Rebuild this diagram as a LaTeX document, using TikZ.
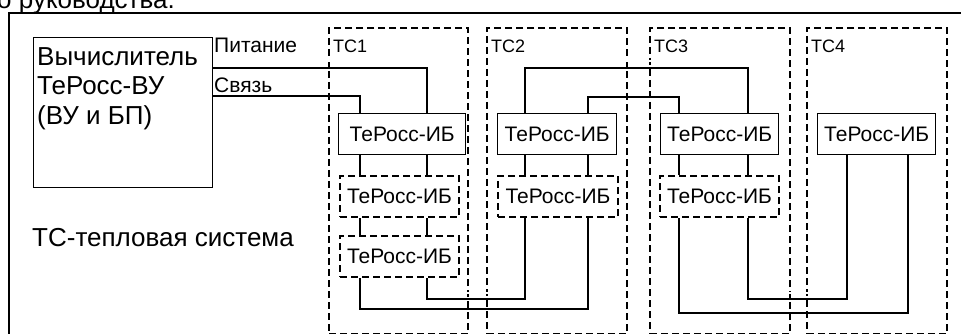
\documentclass[tikz,border=0pt]{standalone}
\usepackage{fontspec}
\setmainfont{Liberation Sans}
\usetikzlibrary{positioning}

\begin{document}
\begin{tikzpicture}[x=1pt,y=-1pt,
frame/.style={line width=2.8pt},
group/.style={draw,line width=2pt,dash pattern=on 7pt off 4pt,anchor=north west,inner sep=0pt,minimum height=306pt},
unit/.style={draw,line width=1.3pt,fill=white,anchor=north west,inner sep=0pt,minimum height=41pt,font=\fontsize{21}{25}\selectfont},
spare/.style={unit,line width=2pt,dash pattern=on 7pt off 4pt},
lbl/.style={anchor=base west,inner sep=0pt,font=\fontsize{21}{25}\selectfont},
tclbl/.style={anchor=base west,inner sep=0pt,font=\fontsize{18}{22}\selectfont},
link/.style={line width=1.8pt},
feed/.style={line width=0.8pt,double,double distance=1.3pt}]
\useasboundingbox (0,0) rectangle (961,334);
\clip (0,0) rectangle (961,334);
\node[anchor=base west,inner sep=0pt,font=\fontsize{26}{30}\selectfont] (head) at (-3,9) {о руководства.};
\draw[frame] (9,340) -- (9,13) -- (970,13);
\node[group,minimum width=139pt] (tc1) at (328,27) {};
\node[group,minimum width=140pt] (tc2) at (486,27) {};
\node[group,minimum width=140pt] (tc3) at (649,27) {};
\node[group,minimum width=140pt] (tc4) at (806,27) {};
\node[tclbl] (tc1l) at (333,53) {ТС1};
\node[tclbl] (tc2l) at (491,53) {ТС2};
\node[tclbl] (tc3l) at (654,53) {ТС3};
\node[tclbl] (tc4l) at (811,53) {ТС4};
\node[draw,line width=1.3pt,anchor=north west,inner sep=0pt,minimum width=179pt,minimum height=150pt] (vu) at (33,37) {};
\node[anchor=north west,align=left,inner sep=0pt,font=\fontsize{26}{29.5}\selectfont] (vutxt) at (37,47) {Вычислитель\\ТеРосс-ВУ\\(ВУ и БП)};
\node[lbl] (pwr) at (214,53) {Питание};
\node[lbl] (com) at (214,93) {Связь};
\node[anchor=base west,inner sep=0pt,font=\fontsize{26}{30}\selectfont] (legend) at (32,246) {ТС-тепловая система};
\node[unit,minimum width=127pt] (ib1) at (338,113) {ТеРосс-ИБ};
\node[unit,minimum width=119pt] (ib2) at (497,113) {ТеРосс-ИБ};
\node[unit,minimum width=118pt] (ib3) at (660,113) {ТеРосс-ИБ};
\node[unit,minimum width=118pt] (ib4) at (817,113) {ТеРосс-ИБ};
\node[spare,minimum width=119pt] (ib1b) at (339,175) {ТеРосс-ИБ};
\node[spare,minimum width=119pt] (ib1c) at (339,235) {ТеРосс-ИБ};
\node[spare,minimum width=120pt] (ib2b) at (497,175) {ТеРосс-ИБ};
\node[spare,minimum width=119pt] (ib3b) at (659,175) {ТеРосс-ИБ};
\coordinate (a1) at (432,61);
\coordinate (a2) at (519,293);
\coordinate (a3) at (754,61);
\coordinate (a4) at (841,293);
\coordinate (b1) at (427,68);
\coordinate (b2) at (525,299);
\coordinate (b3) at (748,68);
\coordinate (b4) at (847,299);
\coordinate (s1) at (360,96);
\coordinate (s2) at (588,309);
\coordinate (s3) at (679,97);
\coordinate (s4) at (908,313);
\draw[feed] (vu.east |- a1) -| (ib1.north -| a1);
\draw[link] (vu.east |- b1) -| (ib1.north -| b1);
\draw[link] (vu.east |- s1) -| (ib1.north -| s1);
\foreach \u/\v/\k in {ib1/ib1b/1,ib1b/ib1c/1,ib2/ib2b/2,ib3/ib3b/3}{
\draw[feed] (\u.south -| a\k) -- (\v.north -| a\k);
\draw[link] (\u.south -| b\k) -- (\v.north -| b\k);
\draw[link] (\u.south -| s\k) -- (\v.north -| s\k);}
\foreach \u/\p/\v/\q/\i/\j in {ib1c/south/ib2b/south/1/2,ib2/north/ib3/north/2/3,ib3b/south/ib4/south/3/4}{
\draw[feed] (\u.\p -| a\i) |- (a\j) -- (\v.\q -| a\j);
\draw[link] (\u.\p -| b\i) |- (b\j) -- (\v.\q -| b\j);
\draw[link] (\u.\p -| s\i) |- (s\j) -- (\v.\q -| s\j);}
\end{tikzpicture}
\end{document}
